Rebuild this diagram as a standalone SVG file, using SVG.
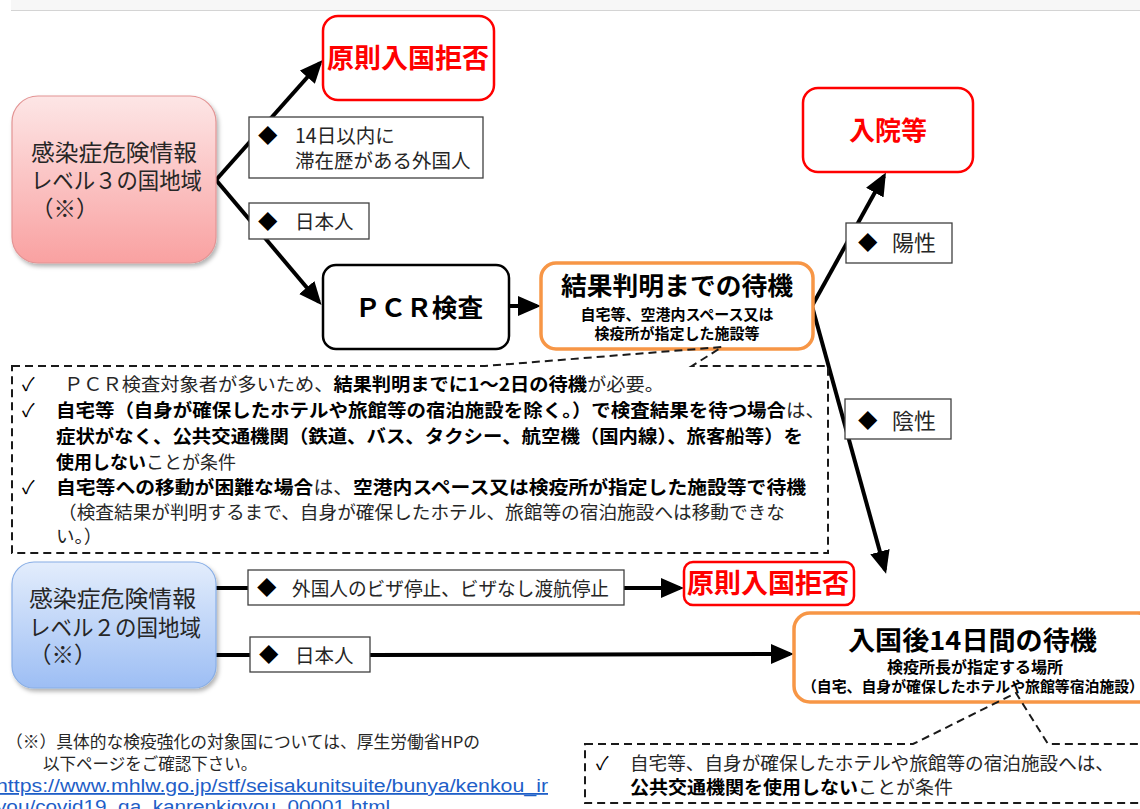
<svg xmlns="http://www.w3.org/2000/svg" width="1140" height="809" viewBox="0 0 1140 809">
<style>
text{font-family:"Noto Sans CJK JP","Noto Sans CJK SC",sans-serif;fill:#262626}
.b{font-weight:bold;fill:#000}
.red{font-weight:bold;fill:#ff0000}
.lbl{font-size:19.5px}
.co{font-size:18.5px}
.conn{fill:none;stroke:#000;stroke-width:4;marker-end:url(#ah)}
.redbox{fill:#fff;stroke:#ff0000;stroke-width:2.5}
.orbox{fill:#fff;stroke:#f79646;stroke-width:3.5}
.lbox{fill:#fff;stroke:#404040;stroke-width:1.3}
.dash{fill:none;stroke:#1a1a1a;stroke-width:2;stroke-dasharray:8,5}
.url{font-family:"Liberation Sans",Arial,sans-serif;font-size:18px;fill:#1f5fc8;text-decoration:underline}
</style>
<defs>
<marker id="ah" markerUnits="userSpaceOnUse" markerWidth="24" markerHeight="22" refX="19" refY="10" orient="auto">
<path d="M0,0 L23,10 L0,20 z" fill="#000"/>
</marker>
<linearGradient id="gPink" x1="0" y1="0" x2="0" y2="1">
<stop offset="0" stop-color="#fde6e6"/><stop offset="1" stop-color="#f9a1a1"/>
</linearGradient>
<linearGradient id="gBlue" x1="0" y1="0" x2="0" y2="1">
<stop offset="0" stop-color="#e3edfc"/><stop offset="1" stop-color="#9dbef4"/>
</linearGradient>
<filter id="sh" x="-10%" y="-10%" width="130%" height="130%">
<feDropShadow dx="2" dy="3" stdDeviation="2" flood-color="#000" flood-opacity="0.3"/>
</filter>
</defs>

<rect x="11" y="0" width="1129" height="10" fill="#f7f7f7"/>
<line x1="11" y1="10.5" x2="1140" y2="10.5" stroke="#d4d4d4" stroke-width="1"/>

<g id="connectors">
<path class="conn" d="M216,180 L320,63"/>
<path class="conn" d="M216,180 L319,302"/>
<path class="conn" d="M509,306 L537,306"/>
<path class="conn" d="M812,306 L884,176"/>
<path class="conn" d="M812,306 L885,570"/>
<path class="conn" d="M216,588 L680,588"/>
<path class="conn" d="M216,655 L370,655 L790,654"/>
</g>

<g id="level3">
<rect x="12" y="96" width="204" height="167" rx="26" fill="url(#gPink)" stroke="#e39494" stroke-width="1.2" filter="url(#sh)"/>
<text x="31" y="161" font-size="22.5" textLength="166" lengthAdjust="spacingAndGlyphs">感染症危険情報</text>
<text x="31" y="189" font-size="22.5" textLength="171" lengthAdjust="spacingAndGlyphs">レベル３の国地域</text>
<text x="31" y="217" font-size="22.5">（※）</text>
</g>

<g id="reject1">
<rect class="redbox" x="323" y="16" width="171" height="84" rx="15"/>
<text class="red" x="408" y="68" font-size="27" text-anchor="middle">原則入国拒否</text>
</g>

<g id="label-foreign">
<rect class="lbox" x="249" y="117" width="234" height="61"/>
<text class="lbl" x="258" y="143" style="fill:#000">◆</text>
<text class="lbl" x="295" y="143">14日以内に</text>
<text class="lbl" x="295" y="168">滞在歴がある外国人</text>
</g>

<g id="label-jp1">
<rect class="lbox" x="249" y="203" width="120" height="36"/>
<text class="lbl" x="258" y="229" style="fill:#000">◆</text>
<text class="lbl" x="295" y="229">日本人</text>
</g>

<g id="pcr">
<rect x="323" y="265" width="186" height="84" rx="13" fill="#fff" stroke="#000" stroke-width="2.5"/>
<text class="b" x="355" y="317" font-size="25" textLength="128" lengthAdjust="spacingAndGlyphs">ＰＣＲ検査</text>
</g>

<g id="waitResult">
<rect class="orbox" x="541" y="263" width="272" height="86" rx="15"/>
<text class="b" x="561" y="295" font-size="25" textLength="232" lengthAdjust="spacingAndGlyphs">結果判明までの待機</text>
<text class="b" x="677" y="320" font-size="15" text-anchor="middle">自宅等、空港内スペース又は</text>
<text class="b" x="677" y="339" font-size="15" text-anchor="middle">検疫所が指定した施設等</text>
</g>

<g id="hospital">
<rect class="redbox" x="803" y="88" width="170" height="84" rx="15"/>
<text class="red" x="888" y="140" font-size="26" text-anchor="middle">入院等</text>
</g>

<g id="label-pos">
<rect class="lbox" x="846" y="223" width="106" height="40"/>
<text class="lbl" x="858" y="250" style="fill:#000">◆</text>
<text x="892" y="251" font-size="22">陽性</text>
</g>

<g id="label-neg">
<rect class="lbox" x="845" y="399" width="106" height="40"/>
<text class="lbl" x="858" y="428" style="fill:#000">◆</text>
<text x="892" y="429" font-size="22">陰性</text>
</g>

<g id="note-wait">
<path class="dash" d="M12,366 L485,366 L722,347 L692,366 L828,366 L828,553 L12,553 Z"/>
<text class="co" x="22" y="391" style="fill:#000">✓</text>
<text class="co" x="64" y="391" textLength="600" lengthAdjust="spacingAndGlyphs">ＰＣＲ検査対象者が多いため、<tspan class="b">結果判明までに1～2日の待機</tspan>が必要。</text>
<text class="co" x="22" y="417" style="fill:#000">✓</text>
<text class="co" x="56" y="417" textLength="769" lengthAdjust="spacingAndGlyphs"><tspan class="b">自宅等（自身が確保したホテルや旅館等の宿泊施設を除く。）で検査結果を待つ場合</tspan>は、</text>
<text class="co b" x="56" y="443" textLength="747" lengthAdjust="spacingAndGlyphs">症状がなく、公共交通機関（鉄道、バス、タクシー、航空機（国内線）、旅客船等）を</text>
<text class="co" x="56" y="469" textLength="180" lengthAdjust="spacingAndGlyphs"><tspan class="b">使用しない</tspan>ことが条件</text>
<text class="co" x="22" y="494" style="fill:#000">✓</text>
<text class="co" x="56" y="494" textLength="750" lengthAdjust="spacingAndGlyphs"><tspan class="b">自宅等への移動が困難な場合</tspan>は、<tspan class="b">空港内スペース又は検疫所が指定した施設等で待機</tspan></text>
<text class="co" x="58" y="519" textLength="727" lengthAdjust="spacingAndGlyphs">（検査結果が判明するまで、自身が確保したホテル、旅館等の宿泊施設へは移動できな</text>
<text class="co" x="56" y="543">い。）</text>
</g>

<g id="level2">
<rect x="12" y="562" width="204" height="126" rx="22" fill="url(#gBlue)" stroke="#88aee6" stroke-width="1.2" filter="url(#sh)"/>
<text x="29" y="607" font-size="22.5" textLength="167" lengthAdjust="spacingAndGlyphs">感染症危険情報</text>
<text x="29" y="636" font-size="22.5" textLength="172" lengthAdjust="spacingAndGlyphs">レベル２の国地域</text>
<text x="29" y="663" font-size="22.5">（※）</text>
</g>

<g id="label-visa">
<rect class="lbox" x="248" y="570" width="376" height="35"/>
<text class="lbl" x="257" y="595" style="fill:#000">◆</text>
<text class="lbl" x="292" y="596" textLength="317" lengthAdjust="spacingAndGlyphs">外国人のビザ停止、ビザなし渡航停止</text>
</g>

<g id="reject2">
<rect class="redbox" x="684" y="562" width="170" height="43" rx="9"/>
<text class="red" x="768" y="593" font-size="27" text-anchor="middle">原則入国拒否</text>
</g>

<g id="label-jp2">
<rect class="lbox" x="250" y="637" width="120" height="35"/>
<text class="lbl" x="259" y="662" style="fill:#000">◆</text>
<text class="lbl" x="295" y="663">日本人</text>
</g>

<g id="wait14">
<rect class="orbox" x="794" y="613" width="360" height="89" rx="16"/>
<text class="b" x="848" y="650" font-size="26" textLength="249" lengthAdjust="spacingAndGlyphs">入国後14日間の待機</text>
<text class="b" x="975" y="673" font-size="16" text-anchor="middle">検疫所長が指定する場所</text>
<text class="b" x="802" y="692" font-size="15" textLength="342" lengthAdjust="spacingAndGlyphs">（自宅、自身が確保したホテルや旅館等宿泊施設）</text>
</g>

<g id="note-14">
<path class="dash" d="M585,744 L913,744 L1016,693 L1048,744 L1150,744 L1150,803 L585,803 Z"/>
<text class="co" x="596" y="770" style="fill:#000">✓</text>
<text class="co" x="630" y="770" textLength="484" lengthAdjust="spacingAndGlyphs">自宅等、自身が確保したホテルや旅館等の宿泊施設へは、</text>
<text class="co" x="630" y="794" textLength="323" lengthAdjust="spacingAndGlyphs"><tspan class="b">公共交通機関を使用しない</tspan>ことが条件</text>
</g>

<g id="footnote">
<text x="6" y="748" font-size="16.5" textLength="474" lengthAdjust="spacingAndGlyphs">（※）具体的な検疫強化の対象国については、厚生労働省HPの</text>
<text x="43" y="770" font-size="16.5">以下ページをご確認下さい。</text>
<text class="url" x="-4" y="792" textLength="552" lengthAdjust="spacingAndGlyphs">https://www.mhlw.go.jp/stf/seisakunitsuite/bunya/kenkou_ir</text>
<text class="url" x="-4" y="813" textLength="394" lengthAdjust="spacingAndGlyphs">you/covid19_qa_kanrenkigyou_00001.html</text>
</g>
</svg>
